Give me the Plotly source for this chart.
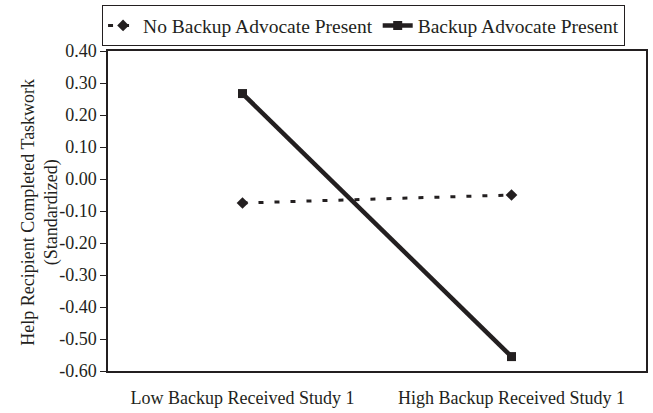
import plotly.graph_objects as go

categories = ["Low Backup Received Study 1", "High Backup Received Study 1"]
no_backup = [-0.075, -0.05]
backup = [0.267, -0.555]
series_names = ["No Backup Advocate Present", "Backup Advocate Present"]
y_tick_vals = [0.40, 0.30, 0.20, 0.10, 0.00, -0.10, -0.20, -0.30, -0.40, -0.50, -0.60]
y_tick_text = ["0.40", "0.30", "0.20", "0.10", "0.00", "-0.10", "-0.20", "-0.30", "-0.40", "-0.50", "-0.60"]
y_title = "Help Recipient Completed Taskwork<br>(Standardized)"

FONT = "Liberation Serif, Times New Roman, serif"
INK = "#231f20"

fig = go.Figure()
fig.add_trace(go.Scatter(
    x=categories, y=no_backup, name=series_names[0], mode="lines+markers",
    line=dict(color=INK, width=3, dash="5px,11px"),
    marker=dict(symbol="diamond", size=9, color=INK),
))
fig.add_trace(go.Scatter(
    x=categories, y=backup, name=series_names[1], mode="lines+markers",
    line=dict(color=INK, width=4.5),
    marker=dict(symbol="square", size=9, color=INK),
))

fig.update_layout(
    width=653, height=413,
    margin=dict(l=108, r=5, t=49, b=40),
    paper_bgcolor="white", plot_bgcolor="white",
    font=dict(family=FONT, size=18, color=INK),
    showlegend=True,
    legend=dict(
        orientation="h", x=0.475, y=1.143, xanchor="center", yanchor="top",
        bordercolor=INK, borderwidth=1, bgcolor="white",
        font=dict(family=FONT, size=19.5, color=INK),
        itemwidth=30, tracegroupgap=0,
    ),
    xaxis=dict(
        type="category", range=[-0.5, 1.5],
        showline=True, linecolor=INK, linewidth=1.5, mirror=True,
        ticks="", showgrid=False, zeroline=False,
        tickfont=dict(family=FONT, size=18, color=INK),
        ticklabelstandoff=10,
    ),
    yaxis=dict(
        range=[-0.60, 0.40],
        tickvals=y_tick_vals, ticktext=y_tick_text,
        showline=True, linecolor=INK, linewidth=1.5, mirror=True,
        ticks="outside", ticklen=6, tickcolor=INK, tickwidth=1,
        showgrid=False, zeroline=False,
        tickfont=dict(family=FONT, size=18, color=INK),
    ),
    annotations=[dict(
        text=y_title, textangle=-90, xref="paper", yref="paper",
        x=-0.128, y=0.495, xanchor="center", yanchor="middle", showarrow=False,
        font=dict(family=FONT, size=18, color=INK),
    )],
)

fig.write_html(
    "out.html",
    config={"displayModeBar": False},
    post_script="document.body.style.margin='0';document.body.style.overflow='hidden';",
)
